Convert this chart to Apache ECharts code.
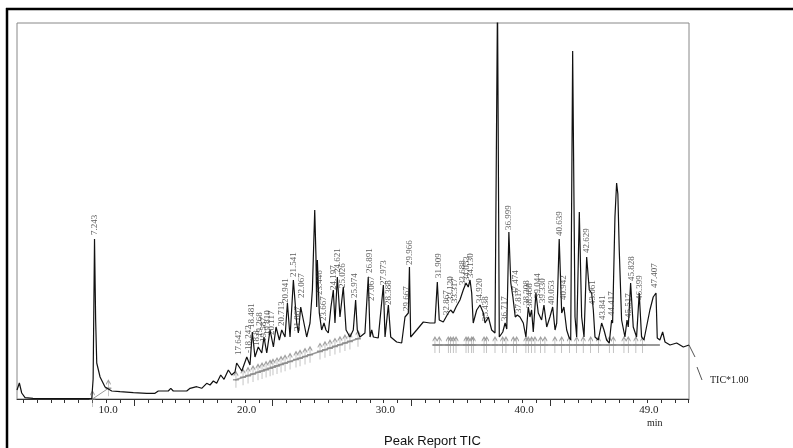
<!DOCTYPE html>
<html>
<head>
<meta charset="utf-8">
<script src="https://cdn.jsdelivr.net/npm/echarts@6/dist/echarts.min.js"></script>
<style>
  html, body { margin: 0; padding: 0; background: #fff; }
  #chart { width: 793px; height: 448px; }
</style>
</head>
<body>
<div id="chart"></div>
<script>
// TIC trace, [time (min), intensity]
var traceTIC = [
  [1.56, 9], [1.59, 11], [1.73, 16], [1.90, 6], [2.14, 1.3], [2.72, 0.7], [4.67, 0.3], [6.95, 0.3],
  [7.05, 20], [7.15, 160], [7.23, 80], [7.31, 36], [7.55, 22], [7.91, 12], [8.39, 8], [8.99, 7.3],
  [9.95, 6.3], [10.92, 5.7], [11.51, 5.7], [11.75, 8], [12.47, 8], [12.65, 10.7], [12.83, 8], [13.80, 8],
  [14.04, 10.7], [14.52, 12.3], [14.88, 10.7], [15.24, 15.7], [15.48, 14], [15.72, 18], [15.96, 15.7],
  [16.25, 24], [16.49, 19.7], [16.80, 29], [17.04, 24], [17.28, 27], [17.40, 36], [17.52, 38], [17.77, 28],
  [18.13, 42], [18.36, 34], [18.53, 67], [18.72, 42], [18.96, 52], [19.21, 46], [19.37, 62], [19.57, 46],
  [19.81, 69], [20.05, 52], [20.24, 72], [20.48, 59], [20.65, 69], [20.89, 62], [21.06, 96], [21.25, 62],
  [21.49, 119], [21.73, 76], [21.85, 66], [22.02, 92], [22.21, 79], [22.45, 62], [22.69, 76], [22.86, 109],
  [23.03, 189], [23.12, 142], [23.17, 92], [23.22, 139], [23.36, 86], [23.53, 69], [23.70, 76], [23.84, 69],
  [24.01, 66], [24.20, 92], [24.37, 109], [24.49, 76], [24.66, 122], [24.85, 82], [25.09, 112], [25.29, 69],
  [25.57, 62], [25.81, 69], [25.98, 99], [26.10, 69], [26.29, 62], [26.65, 66], [26.89, 122], [27.02, 62],
  [27.14, 69], [27.26, 62], [27.61, 61], [27.98, 114], [28.10, 62], [28.34, 94], [28.51, 62], [28.94, 57],
  [29.30, 56], [29.54, 82], [29.78, 86], [29.86, 132], [29.95, 62], [30.38, 69], [30.86, 77], [31.34, 76],
  [31.70, 76], [31.87, 117], [32.01, 79], [32.30, 77], [32.66, 86], [32.83, 89], [33.02, 86], [33.22, 92],
  [33.50, 99], [33.74, 109], [33.94, 116], [34.10, 112], [34.23, 119], [34.35, 106], [34.46, 76], [34.71, 89],
  [34.95, 94], [35.19, 86], [35.31, 76], [35.55, 82], [35.79, 69], [36.03, 66], [36.15, 68], [36.21, 400],
  [36.34, 62], [36.59, 67], [36.76, 76], [36.88, 70], [37.03, 167], [37.17, 116], [37.32, 102], [37.49, 82],
  [37.64, 84], [37.83, 82], [38.07, 76], [38.26, 62], [38.43, 92], [38.55, 82], [38.67, 89], [38.79, 67],
  [38.98, 106], [39.15, 86], [39.39, 79], [39.56, 94], [39.76, 72], [39.99, 82], [40.19, 92], [40.36, 69],
  [40.48, 76], [40.66, 160], [40.84, 86], [41.00, 92], [41.20, 69], [41.36, 62], [41.49, 59], [41.63, 348],
  [41.80, 82], [41.92, 62], [42.11, 187], [42.28, 82], [42.45, 62], [42.64, 142], [42.83, 109], [43.00, 106],
  [43.12, 89], [43.24, 62], [43.48, 59], [43.72, 76], [43.89, 69], [44.08, 59], [44.27, 56], [44.44, 79],
  [44.51, 76], [44.68, 182], [44.80, 216], [44.89, 205], [44.99, 149], [45.16, 79], [45.40, 62], [45.55, 79],
  [45.64, 72], [45.81, 116], [46.00, 72], [46.24, 62], [46.43, 106], [46.60, 62], [46.77, 59], [47.20, 89],
  [47.44, 102], [47.64, 106], [47.73, 61], [47.92, 59], [48.12, 67], [48.29, 57], [48.65, 54], [49.13, 56],
  [49.61, 52], [50.02, 54]
];

// peak labels: [time, intensity where the text starts, text]
var peakLabels = [
  [7.15, 162, '7.243'], [17.52, 42, '17.642'], [18.24, 44, '-18.242'], [18.49, 69, '18.481'],
  [18.85, 51, '18.8'], [19.05, 60, '19.268'], [19.35, 55, '19.587'], [19.6, 62, '19.810'],
  [19.95, 62, '20.117'], [20.65, 71, '20.713'], [20.96, 94, '20.941'], [21.49, 120, '21.541'],
  [21.8, 66, '21.867'], [22.09, 99, '22.067'], [23.41, 102, '23.446'], [23.70, 76, '23.667'],
  [24.37, 107, '24.197'], [24.66, 124, '24.621'], [25.05, 109, '25.026'], [25.94, 99, '25.974'],
  [26.97, 124, '26.891'], [27.14, 96, '27.067'], [27.98, 112, '27.973'], [28.39, 92, '28.388'],
  [29.67, 86, '29.667'], [29.91, 132, '29.966'], [31.94, 119, '31.909'], [32.55, 82, '32.867'],
  [32.84, 96, '33.120'], [33.10, 94, '33.317'], [33.70, 112, '33.688'], [34.0, 116, '34.053'],
  [34.28, 119, '34.130'], [34.95, 94, '34.920'], [35.38, 76, '35.438'], [36.75, 76, '36.717'],
  [36.99, 167, '36.999'], [37.49, 102, '37.474'], [37.73, 84, '37.817'], [38.33, 92, '38.308'],
  [38.5, 89, '38.468'], [39.09, 99, '39.044'], [39.47, 94, '39.330'], [40.12, 92, '40.053'],
  [40.66, 161, '40.639'], [41.0, 97, '40.942'], [42.64, 144, '42.629'], [43.07, 92, '43.061'],
  [43.79, 77, '43.841'], [44.44, 81, '44.417'], [45.64, 79, '45.517'], [45.88, 116, '45.828'],
  [46.43, 97, '46.399'], [47.57, 109, '47.407']
];

// integration baselines
var baselineA = [[7.0, 0], [8.15, 10.7]];
var baselineB = [[17.29, 19], [26.29, 61]];
var baselineC = [[31.56, 54], [47.92, 54]];

// peak start / end markers on the baselines
var peakMarks = [
  [7.0, 0], [8.15, 10.7],
  [17.35, 19.3], [17.86, 21.7], [18.22, 23.4], [18.58, 25], [18.94, 26.7], [19.23, 28], [19.52, 29.4],
  [19.81, 30.8], [20.02, 31.8], [20.31, 33.1], [20.60, 34.5], [20.89, 35.8], [21.25, 37.5], [21.68, 39.5],
  [21.97, 40.8], [22.33, 42.5], [22.69, 44.2], [23.41, 47.6], [23.77, 49.2], [24.13, 50.9], [24.49, 52.6],
  [24.85, 54.3], [25.21, 56], [25.57, 57.6], [26.15, 60.3],
  [31.70, 54], [32.01, 54], [32.66, 54], [32.83, 54], [33.02, 54], [33.22, 54], [33.94, 54], [34.10, 54],
  [34.35, 54], [34.46, 54], [35.24, 54], [35.43, 54], [36.03, 54], [36.58, 54], [36.82, 54], [37.35, 54],
  [37.59, 54], [38.26, 54], [38.43, 54], [38.67, 54], [38.91, 54], [39.32, 54], [39.63, 54], [40.35, 54],
  [40.84, 54], [41.39, 54], [41.92, 54], [42.39, 54], [42.93, 54], [43.48, 54], [44.27, 54], [44.56, 54],
  [45.33, 54], [45.64, 54], [46.19, 54], [46.68, 54]
];

// x axis
var axisLabelValues = [10, 20, 30, 40, 49];
var axisLabelTexts = ['10.0', '20.0', '30.0', '40.0', '49.0'];
var longTickValues = [10, 20, 30, 40];

var minorTicks = [];
for (var m = 2; m <= 50; m++) minorTicks.push(m);

var chart = echarts.init(document.getElementById('chart'));

var serif = '"Liberation Serif", "Times New Roman", serif';

chart.setOption({
  animation: false,
  title: {
    text: 'Peak Report TIC',
    left: 379,
    top: 430,
    textStyle: { fontFamily: '"Liberation Sans", Arial, sans-serif', fontSize: 13, fontWeight: 'normal', color: '#111' }
  },
  grid: {
    left: 17, top: 23, right: 104, bottom: 49,
    show: true, borderColor: '#888', borderWidth: 1
  },
  xAxis: [
    {
      type: 'value', min: 1.56, max: 50.02,
      splitLine: { show: false },
      axisLine: { show: true, onZero: false, lineStyle: { color: '#333', width: 1 } },
      axisTick: { show: true, customValues: minorTicks, length: 4, lineStyle: { color: '#333' } },
      axisLabel: {
        customValues: axisLabelValues,
        formatter: function (v) {
          var i = axisLabelValues.indexOf(v);
          return i >= 0 ? axisLabelTexts[i] : '';
        },
        fontFamily: serif, fontSize: 11, color: '#222',
        margin: 6, padding: [0, 52, 0, 0]
      }
    },
    {
      type: 'value', min: 1.56, max: 50.02, position: 'bottom',
      splitLine: { show: false },
      axisLine: { show: false },
      axisTick: { show: true, customValues: longTickValues, length: 7, lineStyle: { color: '#333' } },
      axisLabel: { show: false }
    }
  ],
  yAxis: {
    type: 'value', min: 0, max: 376,
    show: false
  },
  series: [
    {
      type: 'line', name: 'baseA', data: baselineA, symbol: 'none',
      lineStyle: { color: '#999', width: 1 }, z: 2
    },
    {
      type: 'line', name: 'baseB', data: baselineB, symbol: 'none',
      lineStyle: { color: '#999', width: 1.5 }, z: 2
    },
    {
      type: 'line', name: 'baseC', data: baselineC, symbol: 'none',
      lineStyle: { color: '#999', width: 2 }, z: 2
    },
    {
      type: 'scatter', name: 'marks', data: peakMarks,
      symbol: 'path://M5,0 L5,20 M2,5 L5,0 L8,5 M1,10 L9,10',
      symbolSize: [6, 16],
      itemStyle: { color: 'rgba(0,0,0,0)', borderColor: '#888', borderWidth: 1 },
      z: 3
    },
    {
      type: 'line', name: 'TIC', data: traceTIC, symbol: 'none',
      lineStyle: { color: '#111', width: 1.2 }, z: 5
    },
    {
      type: 'scatter', name: 'labels', data: peakLabels, symbolSize: 0,
      label: {
        show: true, position: 'top', distance: 2, rotate: 90,
        align: 'left', verticalAlign: 'middle',
        fontFamily: serif, fontSize: 9, color: '#333',
        formatter: function (p) { return p.data[2]; }
      },
      z: 6
    }
  ],
  graphic: [
    { type: 'line', shape: { x1: 6, y1: 9, x2: 793, y2: 9 }, style: { stroke: '#000', lineWidth: 2.5 } },
    { type: 'line', shape: { x1: 7, y1: 8, x2: 7, y2: 448 }, style: { stroke: '#000', lineWidth: 2.5 } },
    { type: 'line', shape: { x1: 689, y1: 345, x2: 695, y2: 357 }, style: { stroke: '#555', lineWidth: 1 } },
    { type: 'line', shape: { x1: 697, y1: 367, x2: 702, y2: 380 }, style: { stroke: '#555', lineWidth: 1 } },
    { type: 'text', left: 710, top: 375, style: { text: 'TIC*1.00', font: '10px ' + serif, fill: '#222' } },
    { type: 'text', left: 647, top: 418, style: { text: 'min', font: '10px ' + serif, fill: '#222' } }
  ]
});
</script>
</body>
</html>
